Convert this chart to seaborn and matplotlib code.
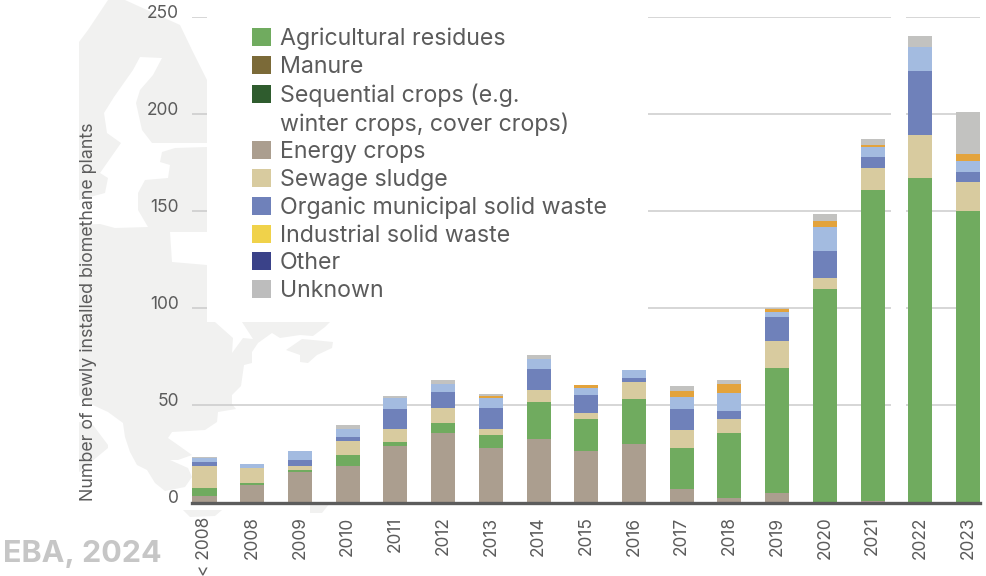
import matplotlib
matplotlib.use("Agg")
import numpy as np
import matplotlib.pyplot as plt
import seaborn as sns
from matplotlib.patches import Patch, Polygon, Rectangle
from matplotlib.transforms import Affine2D, ScaledTranslation

sns.set_theme(style="white")
FONT = "Inter"
plt.rcParams["font.family"] = [FONT, "DejaVu Sans"]

years = ["< 2008", "2008", "2009", "2010", "2011", "2012", "2013", "2014", "2015",
         "2016", "2017", "2018", "2019", "2020", "2021", "2022", "2023"]
energy_crops = [3.6, 8.8, 15.7, 18.7, 29.1, 35.8, 27.9, 32.8, 26.3, 30.1, 7.2, 2.2, 5.0, 0.5, 0.8, 0.2, 0.2]
agri_residues = [4.0, 1.2, 1.2, 6.0, 1.9, 5.0, 6.7, 18.9, 16.8, 23.2, 21.0, 33.8, 64.3, 109.5, 160.2, 167.0, 150.0]
sewage_sludge = [11.0, 8.0, 2.0, 6.9, 6.7, 7.9, 3.1, 6.0, 2.9, 8.8, 8.9, 7.0, 13.9, 5.6, 11.0, 22.0, 14.8]
organic_msw = [2.0, 0, 3.1, 2.2, 10.3, 8.2, 11.0, 11.2, 9.1, 2.2, 11.2, 4.1, 12.4, 14.1, 5.8, 33.2, 5.2]
light_blue = [2.2, 1.9, 4.6, 4.0, 5.8, 4.1, 5.2, 5.0, 4.0, 4.0, 5.8, 9.1, 2.6, 12.1, 5.2, 12.2, 5.8]
orange = [0, 0, 0, 0, 0, 0, 1.0, 0, 1.2, 0, 3.1, 4.8, 1.5, 3.0, 1.0, 0, 3.3]
unknown = [0.7, 0, 0, 1.9, 0.9, 1.9, 1.2, 1.9, 0, 0, 2.9, 2.1, 0.5, 4.0, 3.0, 5.6, 21.8]

stack_values = [energy_crops, agri_residues, sewage_sludge, organic_msw, light_blue, orange, unknown]
stack_colors = ["#ab9e8f", "#70ab5f", "#d8cb9f", "#6f81ba", "#a3bbe0", "#e3a33c", "#c2c2c0"]

legend_labels = ["Agricultural residues", "Manure", "Sequential crops (e.g.",
                 "winter crops, cover crops)", "Energy crops", "Sewage sludge",
                 "Organic municipal solid waste", "Industrial solid waste", "Other", "Unknown"]
legend_colors = ["#70ab5f", "#7b6a38", "#2f5c2e", None, "#ab9e8f", "#d8cb9f",
                 "#6f81ba", "#f0d24a", "#3a4289", "#bdbdbd"]
y_ticks = [0, 50, 100, 150, 200, 250]

W, H = 987, 576
TEXT = "#5b5b5b"
fig = plt.figure(figsize=(W / 100, H / 100), dpi=100, facecolor="white")
px = Affine2D().scale(1 / W, -1 / H).translate(0, 1) + fig.transFigure

# decorative background map (page artwork behind the chart)
LAND = "#f1f1f0"
land_shapes = [
    [(79, 42), (88, 30), (100, 12), (108, 0), (125, 0), (180, 25), (192, 50), (207, 80), (230, 100),
     (215, 322), (233, 338), (232, 353), (243, 338), (253, 339), (242, 322), (330, 322), (325, 327),
     (313, 336), (300, 335), (280, 338), (272, 333), (258, 343), (252, 352), (252, 363), (244, 365),
     (241, 386), (232, 395), (232, 404), (236, 409), (218, 412), (217, 422), (205, 430), (172, 432),
     (168, 438), (178, 445), (192, 455), (178, 460), (170, 460), (188, 468), (192, 477), (185, 487),
     (165, 491), (155, 483), (147, 470), (137, 465), (130, 452), (125, 437), (123, 423), (108, 412),
     (82, 400), (79, 395)],
    [(79, 422), (93, 425), (108, 445), (108, 448), (79, 472)],
    [(286, 350), (302, 339), (313, 340), (333, 342), (332, 348), (317, 355), (308, 363), (300, 362), (300, 355)],
    [(183, 510), (222, 510), (215, 516), (190, 517)],
    [(310, 505), (330, 503), (322, 513), (310, 513)],
]
sea_shapes = [
    [(133, 70), (140, 57), (162, 58), (153, 75), (140, 90), (136, 103), (142, 130), (152, 143),
     (207, 143), (207, 147), (175, 148), (162, 152), (160, 162), (170, 165), (168, 178), (145, 180),
     (138, 193), (138, 210), (148, 227), (115, 228), (100, 224), (79, 225), (79, 200), (105, 193),
     (108, 178), (100, 173), (121, 143), (107, 133), (104, 113), (114, 97)],
    [(170, 232), (207, 232), (207, 265), (172, 262)],
]
for shape in land_shapes:
    fig.add_artist(Polygon(shape, closed=True, transform=px, fc=LAND, ec="none", zorder=-3))
for shape in sea_shapes:
    fig.add_artist(Polygon(shape, closed=True, transform=px, fc="white", ec="none", zorder=-2))

# axes: x 192.5..980, y 17..502.5 in pixels
ax = fig.add_axes([192.5 / W, 1 - 502.5 / H, 787.5 / W, 485.5 / H])
ax.patch.set_alpha(0)

bottom = np.zeros(len(years))
for vals, col in zip(stack_values, stack_colors):
    sns.barplot(x=years, y=vals, bottom=bottom, color=col, saturation=1, width=0.503,
                order=years, ax=ax, errorbar=None, zorder=2, linewidth=0)
    bottom = bottom + np.asarray(vals, dtype=float)

ax.set_xlim(-0.2515, 16.2515)
ax.set_ylim(0, 250)
ax.set_yticks(y_ticks)
ax.set_axisbelow(True)
ax.yaxis.grid(True, color="#cbcbcb", lw=1.1, zorder=0.5)
ax.xaxis.grid(False)
for s in ["top", "right", "left"]:
    ax.spines[s].set_visible(False)
ax.spines["bottom"].set_color("#5c5c5c")
ax.spines["bottom"].set_linewidth(2.4)
ax.spines["bottom"].set_zorder(5)
ax.tick_params(axis="both", length=0)
ax.tick_params(axis="y", pad=10, labelsize=12.5, labelcolor=TEXT)
ax.tick_params(axis="x", pad=10, labelsize=12.5, labelcolor=TEXT, labelrotation=90)
shift = ScaledTranslation(0, 6 / 100, fig.dpi_scale_trans)
for lab in ax.get_yticklabels():
    lab.set_transform(lab.get_transform() + shift)
for lab in ax.get_xticklabels():
    lab.set_clip_on(False)
ax.set_xlabel("")
ax.set_ylabel("Number of newly installed biomethane plants", fontsize=12.8, color=TEXT)
ax.yaxis.set_label_coords((97 - 192.5) / 787.5, 0.392)

# white panel behind the legend and strip across the gridlines
ax.add_patch(Rectangle((207, 0), 441, 322, transform=px, fc="white", ec="none", zorder=0.7, clip_on=False))
ax.add_patch(Rectangle((891, 0), 15, 500, transform=px, fc="white", ec="none", zorder=0.7, clip_on=False))

handles = [Patch(fc=c, ec="none") if c else Patch(fc="none", ec="none") for c in legend_colors]
leg = fig.legend(handles, legend_labels, loc="upper left", bbox_to_anchor=(252 / W, 1 - 27.5 / H),
                 frameon=False, fontsize=16.7, labelcolor=TEXT, handlelength=0.82, handleheight=0.82,
                 handletextpad=0.39, labelspacing=0.24, borderpad=0, borderaxespad=0)

fig.text(162 / W, 1 - 562 / H, "EBA, 2024", ha="right", va="baseline", fontsize=22,
         fontweight="bold", color="#c6c6c6")

fig.savefig("out.png", dpi=100, facecolor="white")
